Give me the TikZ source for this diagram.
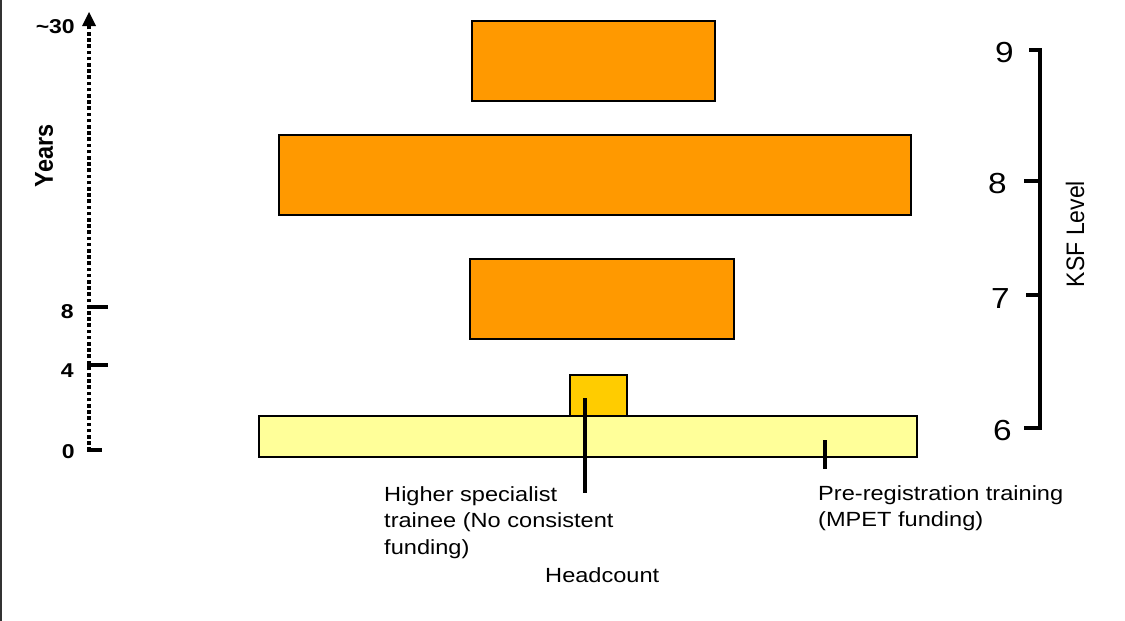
\documentclass[tikz,border=0pt]{standalone}
\usepackage{fontspec}
\setmainfont{Liberation Sans}
\usetikzlibrary{arrows.meta}
\definecolor{orangeF}{HTML}{FF9900}
\definecolor{goldF}{HTML}{FFCC00}
\definecolor{paleF}{HTML}{FFFF99}
\tikzset{
  bar/.style={draw=black, line width=1.3pt, inner sep=0pt, outer sep=0pt, anchor=north west},
  orangebar/.style={bar, fill=orangeF},
  tickline/.style={line width=3.2pt},
  yearlab/.style={font=\fontsize{20}{22}\selectfont\bfseries, anchor=base east, inner sep=0pt, xscale=1.15},
  ksflab/.style={font=\fontsize{29}{31}\selectfont, anchor=base east, inner sep=0pt, xscale=1.15},
  txt/.style={font=\fontsize{20.5}{26.7}\selectfont, align=left, inner sep=0pt, xscale=1.15},
}
\begin{document}
\begin{tikzpicture}[x=1pt,y=-1pt]
\useasboundingbox (0,0) rectangle (1125,621);
\draw[line width=1.5pt, black!80] (0.75,0) -- (0.75,621);

% boxes
\node[orangebar, minimum width=243, minimum height=80] (b9) at (472,21) {};
\node[orangebar, minimum width=632, minimum height=80] (b8) at (279,135) {};
\node[orangebar, minimum width=264, minimum height=80] (b7) at (470,259) {};
\node[bar, fill=goldF, minimum width=57, minimum height=41] (hst) at (570,375) {};
\node[bar, fill=paleF, minimum width=658, minimum height=41] (pre) at (259,416) {};

% pointer lines
\coordinate (hstin) at (585,398);
\coordinate (hstout) at (585,493);
\draw[line width=3.2pt] (hstin) -- (hstout);
\coordinate (prein) at (825,440);
\coordinate (preout) at (825,469);
\draw[line width=3.2pt] (prein) -- (preout);

% labels
\node[txt, anchor=north west] (hstlab) at (384,486) {Higher specialist\\trainee (No consistent\\funding)};
\node[txt, anchor=north west] (prelab) at (818,485) {Pre-registration training\\(MPET funding)};
\node[txt, anchor=north west] (head) at (545,567) {Headcount};

% years axis
\coordinate (y0) at (89,451);
\coordinate (ytop) at (89,12);
\draw[line width=4.8pt, dash pattern=on 3.6pt off 2.6pt] (y0) -- (89,25);
\draw[-{Triangle[width=14pt,length=14pt]}, line width=0pt] (89,25) -- (ytop);
\draw[tickline] (87,450) -- (102,450);
\draw[tickline] (87,365) -- (108,365);
\draw[tickline] (87,307) -- (108,307);
\node[yearlab] (l0) at (75,458) {0};
\node[yearlab] (l4) at (74,377) {4};
\node[yearlab] (l8) at (74,318) {8};
\node[yearlab] (l30) at (75,34) {\textasciitilde 30};
\node[font=\fontsize{23.5}{25}\selectfont\bfseries, xscale=1.1, rotate=90, inner sep=0pt] (years) at (44,156) {Years};

% KSF axis
\draw[line width=3.2pt] (1040,48.5) -- (1040,429.6);
\draw[tickline] (1029,50) -- (1041.6,50);
\draw[tickline] (1024,181) -- (1041.6,181);
\draw[tickline] (1026,295) -- (1041.6,295);
\draw[tickline] (1024,428) -- (1041.6,428);
\node[ksflab] (k9) at (1014,62) {9};
\node[ksflab] (k8) at (1007,193) {8};
\node[ksflab] (k7) at (1010,308) {7};
\node[ksflab] (k6) at (1012,440) {6};
\node[font=\fontsize{23}{25}\selectfont, xscale=1.1, rotate=90, inner sep=0pt] (ksf) at (1075,234) {KSF Level};
\end{tikzpicture}
\end{document}
